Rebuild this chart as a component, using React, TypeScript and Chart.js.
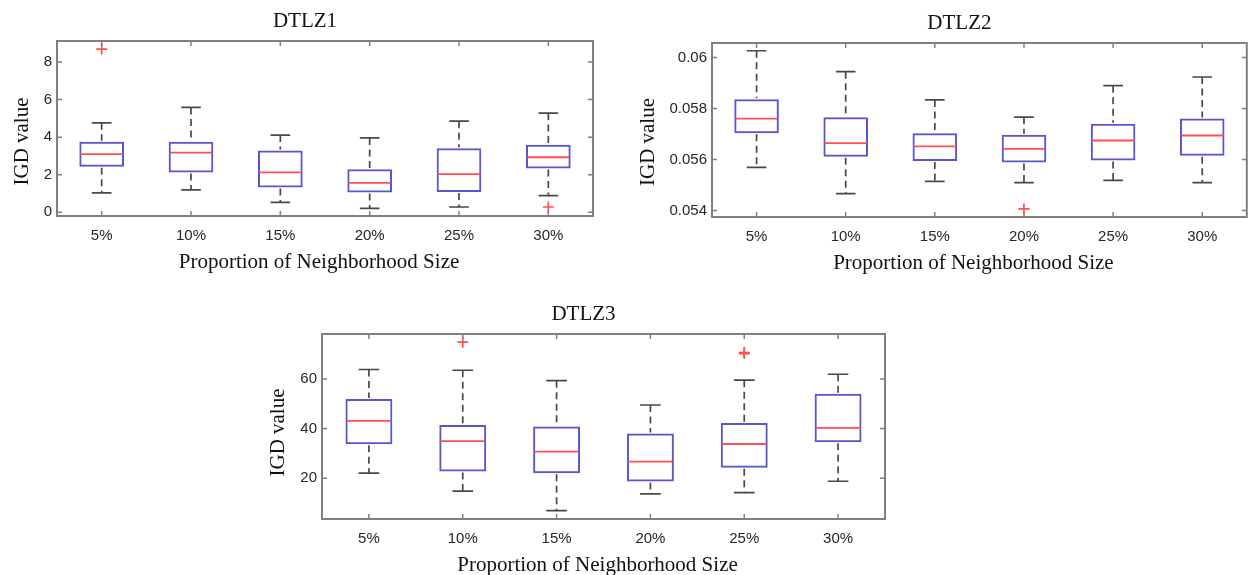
import React, { useEffect, useRef } from "react";
import { Chart, registerables } from "chart.js";

Chart.register(...registerables);

const categories = ["5%", "10%", "15%", "20%", "25%", "30%"];

// DTLZ1
const dtlz1Low = [1.03, 1.19, 0.53, 0.21, 0.28, 0.89];
const dtlz1Q1 = [2.42, 2.12, 1.32, 1.05, 1.08, 2.33];
const dtlz1Median = [3.09, 3.18, 2.12, 1.56, 2.03, 2.93];
const dtlz1Q3 = [3.75, 3.75, 3.29, 2.29, 3.41, 3.59];
const dtlz1High = [4.76, 5.58, 4.11, 3.96, 4.85, 5.28];
const dtlz1Outliers = [
  { x: "5%", y: 8.69 },
  { x: "30%", y: 0.28 },
];
const dtlz1Ticks = [0, 2, 4, 6, 8];

// DTLZ2
const dtlz2Low = [0.055694, 0.054665, 0.055147, 0.055094, 0.055186, 0.055094];
const dtlz2Q1 = [0.057036, 0.056111, 0.055941, 0.055889, 0.055967, 0.05615];
const dtlz2Median = [0.057609, 0.056645, 0.056515, 0.056423, 0.056749, 0.056945];
const dtlz2Q3 = [0.058365, 0.057661, 0.057036, 0.056971, 0.057401, 0.057609];
const dtlz2High = [0.060267, 0.059446, 0.058339, 0.057661, 0.058899, 0.059238];
const dtlz2Outliers = [{ x: "20%", y: 0.054065 }];
const dtlz2Ticks = [0.054, 0.056, 0.058, 0.06];

// DTLZ3
const dtlz3Low = [22.1, 14.8, 7.0, 13.7, 14.2, 18.8];
const dtlz3Q1 = [33.7, 22.7, 22.0, 18.7, 24.2, 34.5];
const dtlz3Median = [43.1, 35.0, 30.7, 26.7, 33.8, 40.3];
const dtlz3Q3 = [51.9, 41.5, 40.8, 38.0, 42.3, 54.0];
const dtlz3High = [63.8, 63.5, 59.3, 49.5, 59.5, 61.9];
const dtlz3Outliers = [
  { x: "10%", y: 74.8 },
  { x: "25%", y: 70.2 },
  { x: "25%", y: 70.6 },
];
const dtlz3Ticks = [20, 40, 60];

const xTitle = "Proportion of Neighborhood Size";
const yTitle = "IGD value";

const BOX_BLUE = "#5656d0";
const MEDIAN_RED = "#ff4f4f";
const WHISKER = "#484848";
const FRAME = "#808080";
const TICK_TEXT = "#262626";
const SERIF = "'Liberation Serif', 'Times New Roman', serif";
const SANS = "'Liberation Sans', Arial, sans-serif";

type BoxProps = {
  title: string;
  low: number[];
  q1: number[];
  median: number[];
  q3: number[];
  high: number[];
  outliers: { x: string; y: number }[];
  yMin: number;
  yMax: number;
  yTicks: number[];
  left: number;
  top: number;
  width: number;
  height: number;
  yAxisWidth: number;
  xAxisHeight: number;
  padRight: number;
  padTop: number;
  yTitleOffset: number;
  yTitleShift: number;
};

function BoxChart(p: BoxProps) {
  const ref = useRef<HTMLCanvasElement | null>(null);
  useEffect(() => {
    if (!ref.current) return;
    const decor = {
      id: "boxDecor",
      afterDatasetsDraw(chart: any) {
        const { ctx } = chart;
        const y = chart.scales.y;
        const meta = chart.getDatasetMeta(0);
        ctx.save();
        meta.data.forEach((bar: any, i: number) => {
          const cx = bar.x;
          const w = bar.width;
          const cap = w * 0.22;
          const yh = y.getPixelForValue(p.high[i]);
          const y3 = y.getPixelForValue(p.q3[i]);
          const y1 = y.getPixelForValue(p.q1[i]);
          const yl = y.getPixelForValue(p.low[i]);
          const ym = y.getPixelForValue(p.median[i]);
          ctx.strokeStyle = WHISKER;
          ctx.lineWidth = 1.7;
          ctx.setLineDash([7, 4.5]);
          ctx.beginPath();
          ctx.moveTo(cx, yh);
          ctx.lineTo(cx, y3 - 1);
          ctx.moveTo(cx, y1 + 1);
          ctx.lineTo(cx, yl);
          ctx.stroke();
          ctx.setLineDash([]);
          ctx.beginPath();
          ctx.moveTo(cx - cap, yh);
          ctx.lineTo(cx + cap, yh);
          ctx.moveTo(cx - cap, yl);
          ctx.lineTo(cx + cap, yl);
          ctx.stroke();
          ctx.strokeStyle = MEDIAN_RED;
          ctx.lineWidth = 1.8;
          ctx.beginPath();
          ctx.moveTo(cx - w / 2 + 1, ym);
          ctx.lineTo(cx + w / 2 - 1, ym);
          ctx.stroke();
        });
        ctx.restore();
      },
      afterDraw(chart: any) {
        const { ctx, chartArea: a } = chart;
        const x = chart.scales.x;
        const y = chart.scales.y;
        ctx.save();
        ctx.strokeStyle = FRAME;
        ctx.lineWidth = 2;
        ctx.strokeRect(a.left, a.top, a.right - a.left, a.bottom - a.top);
        ctx.lineWidth = 1.5;
        ctx.beginPath();
        const tl = 5;
        categories.forEach((_, i) => {
          const px = x.getPixelForValue(i);
          ctx.moveTo(px, a.bottom);
          ctx.lineTo(px, a.bottom - tl);
          ctx.moveTo(px, a.top);
          ctx.lineTo(px, a.top + tl);
        });
        p.yTicks.forEach((v) => {
          const py = y.getPixelForValue(v);
          ctx.moveTo(a.left, py);
          ctx.lineTo(a.left + tl, py);
          ctx.moveTo(a.right, py);
          ctx.lineTo(a.right - tl, py);
        });
        ctx.stroke();

        const cxm = (a.left + a.right) / 2;
        const cym = (a.top + a.bottom) / 2;
        ctx.fillStyle = "#111";
        ctx.textAlign = "center";
        ctx.textBaseline = "middle";
        ctx.font = `21px ${SERIF}`;
        ctx.fillText(p.title, cxm - 20, a.top - 20);
        ctx.fillText(xTitle, cxm - 6, a.bottom + 46);
        ctx.translate(a.left - p.yTitleOffset, cym + p.yTitleShift);
        ctx.rotate(-Math.PI / 2);
        ctx.fillText(yTitle, 0, 0);
        ctx.restore();
      },
    };

    const chart = new Chart(ref.current, {
      type: "bar",
      data: {
        labels: categories,
        datasets: [
          {
            type: "bar",
            data: p.q1.map((v, i) => [v, p.q3[i]]) as any,
            backgroundColor: "rgba(255,255,255,0)",
            borderColor: BOX_BLUE,
            borderWidth: 2,
            borderSkipped: false,
            barPercentage: 0.5,
            categoryPercentage: 1,
          } as any,
          {
            type: "scatter",
            data: p.outliers as any,
            pointStyle: "cross",
            pointRadius: 5.5,
            pointBorderWidth: 1.7,
            borderColor: MEDIAN_RED,
            backgroundColor: MEDIAN_RED,
          } as any,
        ],
      },
      options: {
        animation: false,
        responsive: false,
        devicePixelRatio: 1,
        layout: { padding: { left: 0, top: p.padTop, right: p.padRight, bottom: 0 } },
        plugins: {
          legend: { display: false },
          tooltip: { enabled: false },
          title: { display: false },
        },
        scales: {
          x: {
            type: "category",
            offset: true,
            grid: { display: false, drawTicks: false },
            border: { display: false },
            ticks: { color: TICK_TEXT, font: { family: SANS, size: 15 }, padding: 11 },
            afterFit: (s: any) => {
              s.height = p.xAxisHeight;
            },
          },
          y: {
            type: "linear",
            min: p.yMin,
            max: p.yMax,
            grid: { display: false, drawTicks: false },
            border: { display: false },
            ticks: {
              color: TICK_TEXT,
              font: { family: SANS, size: 15 },
              padding: 5,
              callback: (v: any) => String(+Number(v).toFixed(4)),
            },
            afterBuildTicks: (s: any) => {
              s.ticks = p.yTicks.map((v) => ({ value: v }));
            },
            afterFit: (s: any) => {
              s.width = p.yAxisWidth;
            },
          },
        },
      } as any,
      plugins: [decor],
    });
    return () => chart.destroy();
  }, []);
  return (
    <div style={{ position: "absolute", left: p.left, top: p.top, width: p.width, height: p.height }}>
      <canvas ref={ref} width={p.width} height={p.height} style={{ width: p.width, height: p.height, display: "block" }} />
    </div>
  );
}

export default function App() {
  return (
    <div style={{ position: "fixed", left: 0, top: 0, width: 1254, height: 575, background: "#fff", overflow: "hidden" }}>
      <BoxChart
        title="DTLZ1"
        low={dtlz1Low}
        q1={dtlz1Q1}
        median={dtlz1Median}
        q3={dtlz1Q3}
        high={dtlz1High}
        outliers={dtlz1Outliers}
        yMin={-0.2}
        yMax={9.12}
        yTicks={dtlz1Ticks}
        left={0}
        top={0}
        width={620}
        height={285}
        yAxisWidth={57}
        xAxisHeight={69}
        padRight={27}
        padTop={41}
        yTitleOffset={35}
        yTitleShift={13}
      />
      <BoxChart
        title="DTLZ2"
        low={dtlz2Low}
        q1={dtlz2Q1}
        median={dtlz2Median}
        q3={dtlz2Q3}
        high={dtlz2High}
        outliers={dtlz2Outliers}
        yMin={0.05375}
        yMax={0.06057}
        yTicks={dtlz2Ticks}
        left={620}
        top={0}
        width={634}
        height={285}
        yAxisWidth={92}
        xAxisHeight={68}
        padRight={1}
        padTop={43}
        yTitleOffset={64}
        yTitleShift={12}
      />
      <BoxChart
        title="DTLZ3"
        low={dtlz3Low}
        q1={dtlz3Q1}
        median={dtlz3Median}
        q3={dtlz3Q3}
        high={dtlz3High}
        outliers={dtlz3Outliers}
        yMin={3.6}
        yMax={78.1}
        yTicks={dtlz3Ticks}
        left={240}
        top={290}
        width={680}
        height={285}
        yAxisWidth={82}
        xAxisHeight={56}
        padRight={35}
        padTop={44}
        yTitleOffset={44}
        yTitleShift={6}
      />
    </div>
  );
}
